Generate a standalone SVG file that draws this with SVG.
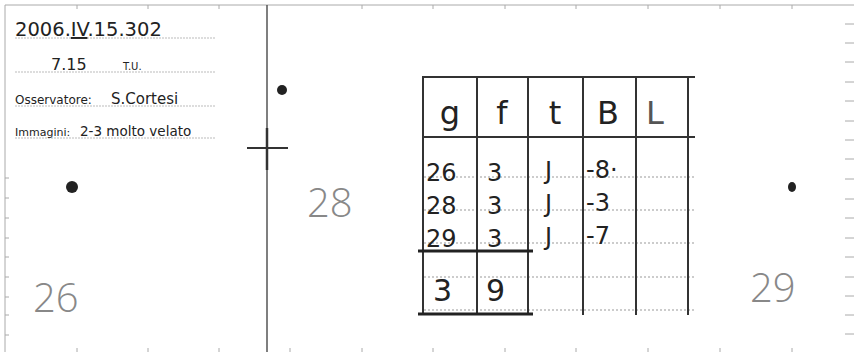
<svg xmlns="http://www.w3.org/2000/svg" width="854" height="352" viewBox="0 0 854 352">
<style>
.hw{font-family:"DejaVu Sans","Liberation Sans",sans-serif;fill:#222}
.lbl{font-family:"Open Sans","Liberation Sans",sans-serif;font-weight:300;fill:#888}
.frm{stroke:#aaa;stroke-width:1;fill:none}
.tick{stroke:#aaa;stroke-width:1}
.uline{stroke:#bbb;stroke-width:1;stroke-dasharray:2 1}
.tbl{stroke:#333;stroke-width:2;fill:none}
.dot{stroke:#999;stroke-width:1;stroke-dasharray:2 2}
.star{fill:#222}
</style>
<rect width="854" height="352" fill="#fff"/>
<!-- page frame -->
<g id="frame">
<path class="frm" d="M5,352 V5 H854"/>
<g class="tick">
<path d="M845,24h9M845,43h9M845,62h9M845,82h9M845,101h9M845,121h9M845,140h9M845,159h9M845,179h9M845,199h9M845,218h9M845,238h9M845,257h9M845,277h9M845,296h9M845,315h9M845,334h9"/>
<path d="M5,178h4M5,198h4M5,218h4M5,238h4M5,257h4M5,277h4M5,297h4M5,315h4M5,335h4"/>
<path d="M77,5v4M148,5v4M219,5v4M362,5v4M433,5v4M505,5v4M576,5v4M648,5v4M720,5v4M792,5v4"/>
<path d="M77,352v-4M148,352v-4M219,352v-4M290,352v-4M362,352v-4M433,352v-4M505,352v-4M576,352v-4M648,352v-4M720,352v-4M792,352v-4"/>
</g>
</g>
<!-- header info -->
<g id="header">
<path class="uline" d="M15,38H215M15,72H215M15,106H215M15,138H215"/>
<text class="hw" x="15" y="36" font-size="19.5">2006.<tspan text-decoration="underline">IV</tspan>.15.302</text>
<text class="hw" x="51" y="70" font-size="16">7.15</text>
<text class="hw" x="123" y="70" font-size="10" fill="#444">T.U.</text>
<text class="hw" x="15" y="104" font-size="12" fill="#444">Osservatore:</text>
<text class="hw" x="111" y="104" font-size="15">S.Cortesi</text>
<text class="hw" x="15" y="136" font-size="11" fill="#444">Immagini:</text>
<text class="hw" x="80" y="136" font-size="13.5">2-3 molto velato</text>
</g>
<!-- reference line and cross -->
<g id="crosshair">
<path d="M267,5V352" stroke="#555" stroke-width="1.5"/>
<path d="M247,148H288" stroke="#333" stroke-width="2"/>
<path d="M267,128V170" stroke="#333" stroke-width="2.5"/>
</g>
<!-- stars -->
<g id="star26"><circle class="star" cx="72" cy="187" r="6"/><text class="lbl" x="33" y="312" font-size="40">26</text></g>
<g id="star28"><circle class="star" cx="282" cy="90" r="5"/><text class="lbl" x="307" y="217" font-size="40">28</text></g>
<g id="star29"><ellipse class="star" cx="792" cy="187" rx="4" ry="5"/><text class="lbl" x="750" y="302" font-size="40">29</text></g>
<!-- table -->
<g id="table">
<path class="dot" d="M424,177H695M424,210H695M424,243H695M424,277H695M424,310H695"/>
<path class="tbl" d="M422,77H695M422,137H695M423,77V315M477,77V315M528,77V315M583,77V315M636,77V315M688,77V315"/>
<path d="M418,251H533M418,314H533" stroke="#222" stroke-width="3"/>
<g class="hw" font-size="32" text-anchor="middle">
<text x="450" y="124">g</text><text x="502" y="124">f</text><text x="555" y="124">t</text><text x="608" y="124">B</text><text x="655" y="124" fill="#555">L</text>
</g>
<g class="hw" font-size="24">
<text x="426" y="181">26</text><text x="426" y="214">28</text><text x="426" y="247">29</text>
<text x="487" y="181">3</text><text x="487" y="214">3</text><text x="487" y="247">3</text>
<text x="545" y="179">J</text><text x="545" y="212">J</text><text x="545" y="245">J</text>
<text x="586" y="178">-8·</text><text x="586" y="211">-3</text><text x="586" y="244">-7</text>
</g>
<text class="hw" x="433" y="301" font-size="30">3</text>
<text class="hw" x="486" y="301" font-size="30">9</text>
</g>
</svg>
